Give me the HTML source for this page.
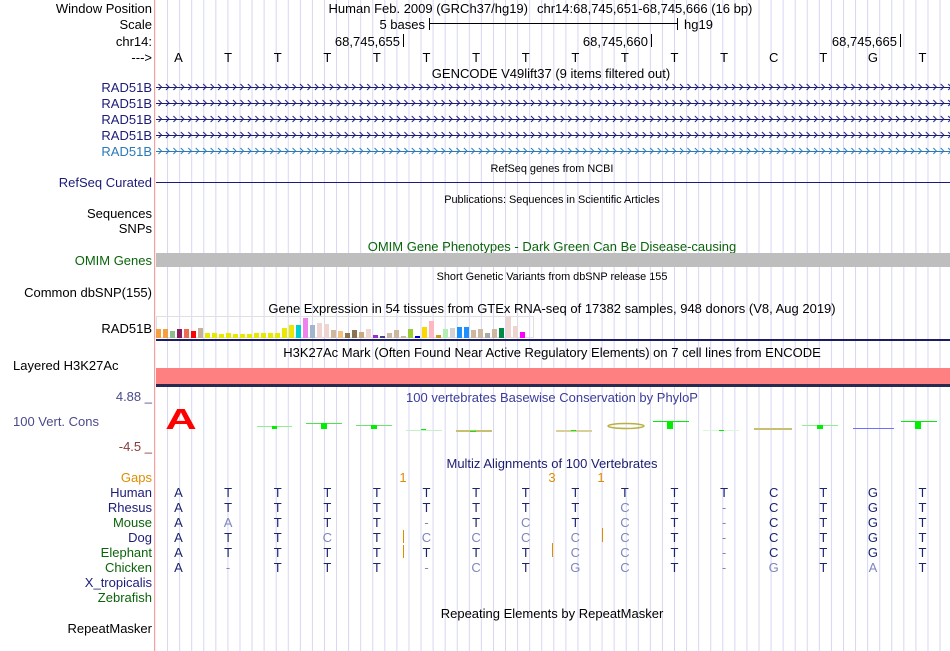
<!DOCTYPE html>
<html><head><meta charset="utf-8"><style>
html,body{margin:0;padding:0;background:#fff;}
svg{display:block;font-family:"Liberation Sans",sans-serif;}
.l{font-size:13px;text-anchor:end;}
.c{text-anchor:middle;}
.s{font-size:10.9px;}
.m{fill:#1c2470;}
.g{fill:#7f86bb;}
</style></head><body>
<svg width="950" height="651" viewBox="0 0 950 651" xmlns="http://www.w3.org/2000/svg">
<defs>
<pattern id="grid" x="155" y="0" width="12.07" height="10" patternUnits="userSpaceOnUse">
<rect x="12.07" y="0" width="1" height="10" fill="#d6d6f2"/><rect x="0" y="0" width="1" height="10" fill="#d6d6f2"/>
</pattern>
<pattern id="chevA" x="157" y="82" width="7.45" height="16" patternUnits="userSpaceOnUse">
<path d="M1.5 2 L4.5 5 L1.5 8" fill="none" stroke="#1c1c78" stroke-width="1"/>
</pattern>
<pattern id="chevB" x="157" y="82" width="7.45" height="16" patternUnits="userSpaceOnUse">
<path d="M1.5 2 L4.5 5 L1.5 8" fill="none" stroke="#2a7ab8" stroke-width="1"/>
</pattern>
</defs>
<rect x="156" y="0" width="794" height="651" fill="url(#grid)"/>
<rect x="154" y="0" width="1.2" height="651" fill="#f4a0a0"/>

<!-- left labels -->
<g class="l">
<text x="152" y="13">Window Position</text>
<text x="152" y="29">Scale</text>
<text x="152" y="46">chr14:</text>
<text x="152" y="62">---&gt;</text>
<text x="152" y="92" fill="#1c1c78">RAD51B</text>
<text x="152" y="108" fill="#1c1c78">RAD51B</text>
<text x="152" y="124" fill="#1c1c78">RAD51B</text>
<text x="152" y="140" fill="#1c1c78">RAD51B</text>
<text x="152" y="156" fill="#2a7ab8">RAD51B</text>
<text x="152" y="187" fill="#1c1c78">RefSeq Curated</text>
<text x="152" y="218">Sequences</text>
<text x="152" y="233">SNPs</text>
<text x="152" y="265" fill="#0a640a">OMIM Genes</text>
<text x="152" y="297">Common dbSNP(155)</text>
<text x="152" y="333">RAD51B</text>
<text x="13" y="370" text-anchor="start">Layered H3K27Ac</text>
<text x="152" y="401" fill="#4a4a8c">4.88 _</text>
<text x="13" y="426" fill="#4a4a8c" text-anchor="start">100 Vert. Cons</text>
<text x="152" y="451" fill="#8b3a3a">-4.5 _</text>
<text x="152" y="482" fill="#e08c00">Gaps</text>
<text x="152" y="497" fill="#1c1c78">Human</text>
<text x="152" y="512" fill="#1c1c78">Rhesus</text>
<text x="152" y="527" fill="#0a640a">Mouse</text>
<text x="152" y="542" fill="#1c1c78">Dog</text>
<text x="152" y="557" fill="#0a640a">Elephant</text>
<text x="152" y="572" fill="#0a640a">Chicken</text>
<text x="152" y="587" fill="#1c1c78">X_tropicalis</text>
<text x="152" y="602" fill="#0a640a">Zebrafish</text>
<text x="152" y="633">RepeatMasker</text>
</g>

<!-- ruler -->
<g font-size="13">
<text x="528" y="13" text-anchor="end">Human Feb. 2009 (GRCh37/hg19)</text>
<text x="537" y="13">chr14:68,745,651-68,745,666 (16 bp)</text>
<text x="425" y="29" text-anchor="end">5 bases</text>
<rect x="429" y="18" width="1" height="12" fill="#000"/>
<rect x="429" y="23" width="249" height="1" fill="#000"/>
<rect x="677" y="18" width="1" height="12" fill="#000"/>
<text x="684" y="29">hg19</text>
<text x="400" y="46" text-anchor="end">68,745,655</text><rect x="403" y="34" width="1" height="13" fill="#000"/>
<text x="648" y="46" text-anchor="end">68,745,660</text><rect x="651" y="34" width="1" height="13" fill="#000"/>
<text x="897" y="46" text-anchor="end">68,745,665</text><rect x="900" y="34" width="1" height="13" fill="#000"/>
<text y="62" text-anchor="middle"><tspan x="178.5">A</tspan><tspan x="228.1">T</tspan><tspan x="277.7">T</tspan><tspan x="327.3">T</tspan><tspan x="376.9">T</tspan><tspan x="426.5">T</tspan><tspan x="476.1">T</tspan><tspan x="525.7">T</tspan><tspan x="575.3">T</tspan><tspan x="624.9">T</tspan><tspan x="674.5">T</tspan><tspan x="724.1">T</tspan><tspan x="773.7">C</tspan><tspan x="823.3">T</tspan><tspan x="872.9">G</tspan><tspan x="922.5">T</tspan></text>
<text x="551" y="78" text-anchor="middle">GENCODE V49lift37 (9 items filtered out)</text>
</g>

<!-- gene lines -->
<rect x="156" y="87" width="794" height="1" fill="#1c1c78"/>
<rect x="156" y="103" width="794" height="1" fill="#1c1c78"/>
<rect x="156" y="119" width="794" height="1" fill="#1c1c78"/>
<rect x="156" y="135" width="794" height="1" fill="#1c1c78"/>
<rect x="156" y="82" width="794" height="64" fill="url(#chevA)"/>
<rect x="156" y="151" width="794" height="1" fill="#2a7ab8"/>
<rect x="156" y="146" width="794" height="11" fill="url(#chevB)"/>

<text x="552" y="172" class="s c">RefSeq genes from NCBI</text>
<rect x="156" y="182" width="794" height="1" fill="#1c1c78"/>
<text x="552" y="203" class="s c">Publications: Sequences in Scientific Articles</text>
<text x="552" y="251" font-size="13" class="c" fill="#0a640a">OMIM Gene Phenotypes - Dark Green Can Be Disease-causing</text>
<rect x="156" y="253" width="794" height="14" fill="#bebebe"/>
<text x="552" y="280" class="s c">Short Genetic Variants from dbSNP release 155</text>
<text x="552" y="313" font-size="13" class="c">Gene Expression in 54 tissues from GTEx RNA-seq of 17382 samples, 948 donors (V8, Aug 2019)</text>

<!-- GTEx bars -->
<rect x="156.5" y="316.5" width="377" height="21" fill="none" stroke="#e0e0e0"/>
<g>
<rect x="156" y="329" width="5" height="9" fill="#f4a040"/>
<rect x="163" y="329" width="5" height="9" fill="#f4a040"/>
<rect x="170" y="331" width="5" height="7" fill="#8fbc8f"/>
<rect x="177" y="329" width="5" height="9" fill="#8b1a5b"/>
<rect x="184" y="329" width="5" height="9" fill="#ee6a50"/>
<rect x="191" y="331" width="5" height="7" fill="#ff0000"/>
<rect x="198" y="328" width="5" height="10" fill="#c8b098"/>
<rect x="205" y="333" width="5" height="5" fill="#e8e800"/>
<rect x="212" y="333" width="5" height="5" fill="#e8e800"/>
<rect x="219" y="334" width="5" height="4" fill="#e8e800"/>
<rect x="226" y="333" width="5" height="5" fill="#e8e800"/>
<rect x="233" y="334" width="5" height="4" fill="#e8e800"/>
<rect x="240" y="334" width="5" height="4" fill="#e8e800"/>
<rect x="247" y="334" width="5" height="4" fill="#e8e800"/>
<rect x="254" y="333" width="5" height="5" fill="#e8e800"/>
<rect x="261" y="333" width="5" height="5" fill="#e8e800"/>
<rect x="268" y="333" width="5" height="5" fill="#e8e800"/>
<rect x="275" y="333" width="5" height="5" fill="#e8e800"/>
<rect x="282" y="328" width="5" height="10" fill="#e8e800"/>
<rect x="289" y="325" width="5" height="13" fill="#e8e800"/>
<rect x="296" y="325" width="5" height="13" fill="#00ced1"/>
<rect x="303" y="318" width="5" height="20" fill="#ee82ee"/>
<rect x="310" y="325" width="5" height="13" fill="#9fb6cd"/>
<rect x="317" y="323" width="5" height="15" fill="#eed5d2"/>
<rect x="324" y="324" width="5" height="14" fill="#eed5d2"/>
<rect x="331" y="330" width="5" height="8" fill="#cdb79e"/>
<rect x="338" y="331" width="5" height="7" fill="#f4c080"/>
<rect x="345" y="333" width="5" height="5" fill="#8b7355"/>
<rect x="352" y="330" width="5" height="8" fill="#8b7355"/>
<rect x="359" y="332" width="5" height="6" fill="#cdaa7d"/>
<rect x="366" y="329" width="5" height="9" fill="#eed5d2"/>
<rect x="373" y="335" width="5" height="3" fill="#9932cc"/>
<rect x="380" y="336" width="5" height="2" fill="#483d8b"/>
<rect x="387" y="333" width="5" height="5" fill="#cdb79e"/>
<rect x="394" y="330" width="5" height="8" fill="#cdb79e"/>
<rect x="401" y="336" width="5" height="2" fill="#cdb79e"/>
<rect x="408" y="329" width="5" height="9" fill="#9acd32"/>
<rect x="415" y="336" width="5" height="2" fill="#0000cd"/>
<rect x="422" y="327" width="5" height="11" fill="#ffd700"/>
<rect x="429" y="321" width="5" height="17" fill="#ffb6c1"/>
<rect x="436" y="335" width="5" height="3" fill="#cd9b1d"/>
<rect x="443" y="329" width="5" height="9" fill="#b4eeb4"/>
<rect x="450" y="328" width="5" height="10" fill="#d3d3d3"/>
<rect x="457" y="327" width="5" height="11" fill="#1e90ff"/>
<rect x="464" y="327" width="5" height="11" fill="#1e90ff"/>
<rect x="471" y="330" width="5" height="8" fill="#cdb79e"/>
<rect x="478" y="329" width="5" height="9" fill="#cdb79e"/>
<rect x="485" y="333" width="5" height="5" fill="#a9a9a9"/>
<rect x="492" y="329" width="5" height="9" fill="#cdb79e"/>
<rect x="499" y="328" width="5" height="10" fill="#008b45"/>
<rect x="506" y="317" width="5" height="21" fill="#eed5d2"/>
<rect x="513" y="326" width="5" height="12" fill="#eed5d2"/>
<rect x="520" y="332" width="5" height="6" fill="#ff00ff"/>
</g>
<rect x="156" y="339" width="794" height="2" fill="#1c1c60"/>

<text x="552" y="357" font-size="13" class="c">H3K27Ac Mark (Often Found Near Active Regulatory Elements) on 7 cell lines from ENCODE</text>
<rect x="156" y="368" width="794" height="16" fill="#ff8080"/>
<rect x="156" y="384" width="794" height="3" fill="#2a2a50"/>

<text x="552" y="402" font-size="13" class="c" fill="#3c3c9a">100 vertebrates Basewise Conservation by PhyloP</text>
<text x="181" y="429" font-size="30" class="c" fill="#ff0000" font-weight="bold" transform="translate(181,429) scale(1.45,0.95) translate(-181,-429)">A</text>

<!-- phyloP glyphs -->
<g>
<rect x="257" y="426" width="35" height="1" fill="#90ee90"/><rect x="272" y="426" width="5" height="3" fill="#00ee00"/>
<rect x="306" y="423" width="36" height="1" fill="#50e050"/><rect x="321" y="423" width="6" height="6" fill="#00ee00"/>
<rect x="356" y="425" width="36" height="1" fill="#70e070"/><rect x="371" y="425" width="6" height="4" fill="#00ee00"/>
<rect x="406" y="430" width="36" height="1" fill="#c8f0c8"/><rect x="421" y="429" width="5" height="1" fill="#00ee00"/>
<rect x="456" y="430" width="36" height="2" fill="#c8c070"/><rect x="470" y="431" width="6" height="1" fill="#00ee00"/>
<rect x="556" y="430" width="36" height="2" fill="#d8d098"/><rect x="571" y="430" width="5" height="1" fill="#00ee00"/>
<ellipse cx="626" cy="426" rx="18" ry="2.5" fill="none" stroke="#b8b040" stroke-width="1.5"/>
<rect x="653" y="421" width="36" height="1" fill="#00ee00"/><rect x="667" y="421" width="6" height="8" fill="#00ee00"/>
<rect x="703" y="430" width="36" height="1" fill="#d8f8d8"/><rect x="719" y="430" width="5" height="1" fill="#00ee00"/>
<rect x="754" y="428" width="38" height="2" fill="#c8c070"/>
<rect x="802" y="425" width="36" height="1" fill="#90ee90"/><rect x="817" y="425" width="6" height="4" fill="#00ee00"/>
<rect x="853" y="428" width="41" height="1" fill="#7070ff"/>
<rect x="901" y="421" width="36" height="1" fill="#00ee00"/><rect x="915" y="421" width="6" height="8" fill="#00ee00"/>
</g>

<text x="552" y="468" font-size="13" class="c" fill="#1c1c70">Multiz Alignments of 100 Vertebrates</text>
<g font-size="13" text-anchor="middle">
<text y="482" fill="#e08c00"><tspan x="403">1</tspan><tspan x="552">3</tspan><tspan x="601">1</tspan></text>
<text y="497" class="m"><tspan x="178.5">A</tspan><tspan x="228.1">T</tspan><tspan x="277.7">T</tspan><tspan x="327.3">T</tspan><tspan x="376.9">T</tspan><tspan x="426.5">T</tspan><tspan x="476.1">T</tspan><tspan x="525.7">T</tspan><tspan x="575.3">T</tspan><tspan x="624.9">T</tspan><tspan x="674.5">T</tspan><tspan x="724.1">T</tspan><tspan x="773.7">C</tspan><tspan x="823.3">T</tspan><tspan x="872.9">G</tspan><tspan x="922.5">T</tspan></text>
<text y="512" class="m"><tspan x="178.5">A</tspan><tspan x="228.1">T</tspan><tspan x="277.7">T</tspan><tspan x="327.3">T</tspan><tspan x="376.9">T</tspan><tspan x="426.5">T</tspan><tspan x="476.1">T</tspan><tspan x="525.7">T</tspan><tspan x="575.3">T</tspan><tspan x="624.9" class="g">C</tspan><tspan x="674.5">T</tspan><tspan x="724.1" class="g">-</tspan><tspan x="773.7">C</tspan><tspan x="823.3">T</tspan><tspan x="872.9">G</tspan><tspan x="922.5">T</tspan></text>
<text y="527" class="m"><tspan x="178.5">A</tspan><tspan x="228.1" class="g">A</tspan><tspan x="277.7">T</tspan><tspan x="327.3">T</tspan><tspan x="376.9">T</tspan><tspan x="426.5" class="g">-</tspan><tspan x="476.1">T</tspan><tspan x="525.7" class="g">C</tspan><tspan x="575.3">T</tspan><tspan x="624.9" class="g">C</tspan><tspan x="674.5">T</tspan><tspan x="724.1" class="g">-</tspan><tspan x="773.7">C</tspan><tspan x="823.3">T</tspan><tspan x="872.9">G</tspan><tspan x="922.5">T</tspan></text>
<text y="542" class="m"><tspan x="178.5">A</tspan><tspan x="228.1">T</tspan><tspan x="277.7">T</tspan><tspan x="327.3" class="g">C</tspan><tspan x="376.9">T</tspan><tspan x="426.5" class="g">C</tspan><tspan x="476.1" class="g">C</tspan><tspan x="525.7" class="g">C</tspan><tspan x="575.3" class="g">C</tspan><tspan x="624.9" class="g">C</tspan><tspan x="674.5">T</tspan><tspan x="724.1" class="g">-</tspan><tspan x="773.7">C</tspan><tspan x="823.3">T</tspan><tspan x="872.9">G</tspan><tspan x="922.5">T</tspan></text>
<text y="557" class="m"><tspan x="178.5">A</tspan><tspan x="228.1">T</tspan><tspan x="277.7">T</tspan><tspan x="327.3">T</tspan><tspan x="376.9">T</tspan><tspan x="426.5">T</tspan><tspan x="476.1">T</tspan><tspan x="525.7">T</tspan><tspan x="575.3" class="g">C</tspan><tspan x="624.9" class="g">C</tspan><tspan x="674.5">T</tspan><tspan x="724.1" class="g">-</tspan><tspan x="773.7">C</tspan><tspan x="823.3">T</tspan><tspan x="872.9">G</tspan><tspan x="922.5">T</tspan></text>
<text y="572" class="m"><tspan x="178.5">A</tspan><tspan x="228.1" class="g">-</tspan><tspan x="277.7">T</tspan><tspan x="327.3">T</tspan><tspan x="376.9">T</tspan><tspan x="426.5" class="g">-</tspan><tspan x="476.1" class="g">C</tspan><tspan x="525.7">T</tspan><tspan x="575.3" class="g">G</tspan><tspan x="624.9" class="g">C</tspan><tspan x="674.5">T</tspan><tspan x="724.1" class="g">-</tspan><tspan x="773.7" class="g">G</tspan><tspan x="823.3">T</tspan><tspan x="872.9" class="g">A</tspan><tspan x="922.5">T</tspan></text>
</g>
<rect x="403" y="530" width="1" height="13" fill="#e08c00"/>
<rect x="403" y="545" width="1" height="13" fill="#e08c00"/>
<rect x="552" y="543" width="1" height="14" fill="#e08c00"/>
<rect x="602" y="528" width="1" height="14" fill="#e08c00"/>

<text x="552" y="618" font-size="13" class="c">Repeating Elements by RepeatMasker</text>
</svg>
</body></html>
